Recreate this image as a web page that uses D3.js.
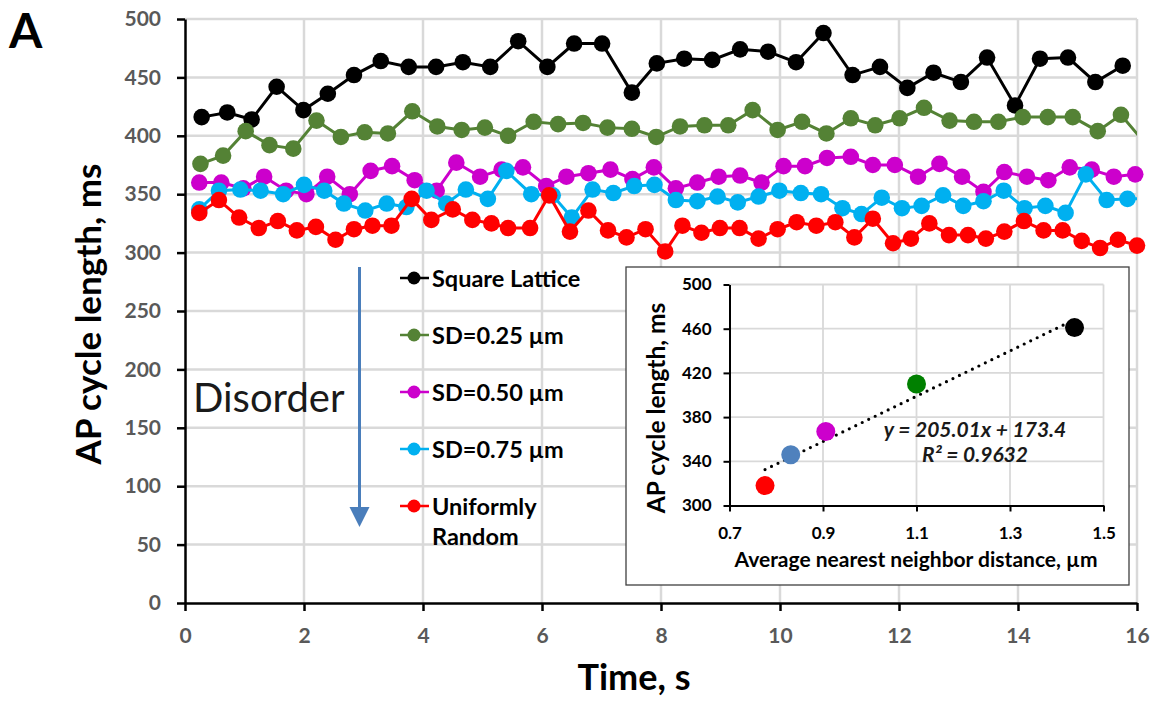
<!DOCTYPE html>
<html>
<head>
<meta charset="utf-8">
<script src="https://cdn.jsdelivr.net/npm/d3@7"></script>
<style>
  body { margin: 0; background: #fff; }
  svg { display: block; }
  text { font-family: Lato, "Liberation Sans", sans-serif; }
</style>
</head>
<body>
<svg id="chart" width="1160" height="708"></svg>
<script>
// ---- Main panel: AP cycle length over time for each cell arrangement ----
const seriesNames = ["Square Lattice", "SD=0.25 µm", "SD=0.50 µm", "SD=0.75 µm", "Uniformly Random"];
const seriesColors = ["#000000", "#548235", "#cc00cc", "#00b0f0", "#ff0000"];

const latticeTime = [0.28,0.71,1.12,1.54,1.99,2.40,2.84,3.29,3.76,4.22,4.67,5.13,5.60,6.09,6.54,7.01,7.51,7.93,8.39,8.86,9.33,9.80,10.27,10.73,11.22,11.68,12.14,12.58,13.04,13.48,13.95,14.37,14.84,15.30,15.76];
const latticeCL   = [416,420,414,442,422,436,452,464,459,459,463,459,481,459,479,479,437,462,466,465,474,472,463,488,452,459,441,454,446,467,426,466,467,446,460];

const sd25Time = [0.26,0.64,1.02,1.42,1.82,2.21,2.62,3.02,3.41,3.82,4.24,4.65,5.04,5.43,5.86,6.27,6.69,7.10,7.51,7.92,8.32,8.73,9.13,9.54,9.96,10.37,10.78,11.19,11.60,12.01,12.42,12.85,13.26,13.67,14.08,14.50,14.92,15.34,15.73,16.13];
const sd25CL   = [376,383,404,392,389,413,399,403,402,421,408,405,407,400,412,410,411,407,406,399,408,409,409,422,405,412,402,415,409,415,424,413,412,412,416,416,416,404,418,394];

const sd50Time = [0.24,0.61,0.98,1.33,1.70,2.04,2.39,2.77,3.12,3.48,3.86,4.23,4.56,4.96,5.32,5.68,6.07,6.41,6.78,7.15,7.52,7.88,8.25,8.61,8.97,9.33,9.69,10.06,10.42,10.79,11.19,11.56,11.93,12.32,12.68,13.06,13.42,13.77,14.15,14.51,14.87,15.24,15.61,15.97];
const sd50CL   = [360,360,355,365,353,350,365,350,370,374,362,353,377,365,371,373,357,365,368,371,363,373,355,360,365,366,360,374,374,381,382,375,375,365,376,365,352,369,365,362,373,371,365,367];

const sd75Time = [0.24,0.57,0.93,1.27,1.65,2.00,2.34,2.67,3.03,3.39,3.72,4.06,4.39,4.72,5.09,5.40,5.82,6.18,6.50,6.85,7.20,7.55,7.89,8.25,8.61,8.95,9.29,9.64,9.99,10.35,10.69,11.05,11.37,11.71,12.05,12.38,12.74,13.08,13.42,13.76,14.11,14.46,14.80,15.14,15.49,15.84,16.18];
const sd75CL   = [337,353,354,353,350,358,353,342,336,342,339,353,342,354,346,370,350,349,330,354,351,357,358,345,344,348,343,348,353,351,350,338,333,347,338,340,349,340,344,353,338,340,334,367,345,346,346];

const randomTime = [0.24,0.57,0.91,1.24,1.56,1.88,2.20,2.53,2.84,3.15,3.47,3.81,4.14,4.50,4.83,5.15,5.43,5.80,6.12,6.47,6.78,7.11,7.42,7.74,8.07,8.36,8.68,8.99,9.32,9.64,9.96,10.28,10.61,10.93,11.25,11.56,11.90,12.20,12.51,12.84,13.16,13.46,13.77,14.10,14.43,14.75,15.07,15.38,15.68,16.00];
const randomCL   = [334,345,330,321,327,319,322,311,320,323,323,346,328,337,328,325,321,321,349,318,336,319,313,320,301,323,317,321,321,312,320,326,323,326,313,329,308,312,325,315,315,312,318,327,319,319,310,304,311,306];

const seriesTimes = [latticeTime, sd25Time, sd50Time, sd75Time, randomTime];
const seriesCL = [latticeCL, sd25CL, sd50CL, sd75CL, randomCL];

const yTicks = [0,50,100,150,200,250,300,350,400,450,500];
const xTicks = [0,2,4,6,8,10,12,14,16];

// ---- Inset: mean cycle length vs. average nearest neighbour distance ----
const nnDistance = [1.438, 1.10, 0.906, 0.831, 0.776];
const meanCL     = [461, 410, 367, 346, 318];
const insetColors = ["#000000", "#008000", "#cc00cc", "#4f81bd", "#ff0000"];
const fitSlope = 205.01, fitIntercept = 173.4, fitR2 = "0.9632";
const fitRange = [0.776, 1.42];
const insetYTicks = [300,340,380,420,460,500];
const insetXTicks = [0.7,0.9,1.1,1.3,1.5];

const svg = d3.select("#chart");
const gridColor = "#d9d9d9";
const tickGray = "#595959";

const x = d3.scaleLinear().domain([0, 16]).range([185, 1137]);
const y = d3.scaleLinear().domain([0, 500]).range([603, 19]);

// gridlines
const grid = svg.append("g");
grid.selectAll("line.h").data(yTicks.filter(d => d > 0)).join("line")
  .attr("x1", x(0)).attr("x2", x(16))
  .attr("y1", d => y(d)).attr("y2", d => y(d))
  .attr("stroke", gridColor).attr("stroke-width", 2.5);
grid.selectAll("line.v").data(xTicks.filter(d => d > 0)).join("line")
  .attr("y1", y(0)).attr("y2", y(500))
  .attr("x1", d => x(d)).attr("x2", d => x(d))
  .attr("stroke", gridColor).attr("stroke-width", 2.5);

// axes
const yAxis = svg.append("g").attr("transform", `translate(${x(0)},0)`)
  .call(d3.axisLeft(y).tickValues(yTicks).tickSize(8).tickPadding(16).tickSizeOuter(0));
const xAxis = svg.append("g").attr("transform", `translate(0,${y(0)})`)
  .call(d3.axisBottom(x).tickValues(xTicks).tickSize(8).tickPadding(17).tickSizeOuter(0));
[yAxis, xAxis].forEach(a => {
  a.select(".domain").attr("stroke", "#000").attr("stroke-width", 2.5);
  a.selectAll(".tick line").attr("stroke", "#000").attr("stroke-width", 2.5);
  a.selectAll(".tick text").attr("fill", tickGray).attr("font-size", 21)
    .attr("font-weight", 700).attr("font-family", "Lato, sans-serif");
});

// series
svg.append("clipPath").attr("id", "plotClip").append("rect")
  .attr("x", x(0)).attr("y", 0).attr("width", x(16) - x(0)).attr("height", y(0));

const line = d3.line().x(d => x(d[0])).y(d => y(d[1]));
seriesNames.forEach((name, i) => {
  const pts = seriesTimes[i].map((t, k) => [t, seriesCL[i][k]]);
  const g = svg.append("g");
  g.append("path").datum(pts).attr("d", line)
    .attr("fill", "none").attr("stroke", seriesColors[i]).attr("stroke-width", 3)
    .attr("clip-path", "url(#plotClip)");
  g.selectAll("circle").data(pts.filter(p => p[0] <= 16.05)).join("circle")
    .attr("cx", d => x(d[0])).attr("cy", d => y(d[1])).attr("r", 8.3)
    .attr("fill", seriesColors[i]);
});

// legend
const legendY = [278, 335, 392, 449, 506];
const legend = svg.append("g");
seriesNames.forEach((name, i) => {
  const ly = legendY[i];
  legend.append("line").attr("x1", 400).attr("x2", 429).attr("y1", ly).attr("y2", ly)
    .attr("stroke", seriesColors[i]).attr("stroke-width", 2.5);
  legend.append("circle").attr("cx", 414).attr("cy", ly).attr("r", 6.5).attr("fill", seriesColors[i]);
  const txt = legend.append("text").attr("x", 432).attr("y", ly + 8.5)
    .attr("font-size", 23.5).attr("font-weight", 700).attr("fill", "#000");
  if (name === "Uniformly Random") {
    txt.text("Uniformly");
    legend.append("text").attr("x", 432).attr("y", ly + 38.5)
      .attr("font-size", 23.5).attr("font-weight", 700).attr("fill", "#000").text("Random");
  } else {
    txt.text(name);
  }
});

// disorder arrow
const arrowColor = "#4a7ebb";
svg.append("line").attr("x1", 359.5).attr("x2", 359.5).attr("y1", 267).attr("y2", 510)
  .attr("stroke", arrowColor).attr("stroke-width", 3);
svg.append("path").attr("d", "M349.5,507 L369.5,507 L359.5,527 Z").attr("fill", arrowColor);
svg.append("text").attr("x", 193).attr("y", 412).attr("font-size", 40)
  .attr("fill", "#1a1a1a").text("Disorder");

// axis titles and panel letter
svg.append("text").attr("transform", "translate(101,314) rotate(-90)")
  .attr("text-anchor", "middle").attr("font-size", 35).attr("font-weight", 700)
  .text("AP cycle length, ms");
svg.append("text").attr("x", 634).attr("y", 690).attr("text-anchor", "middle")
  .attr("font-size", 36).attr("font-weight", 700).text("Time, s");
svg.append("text").attr("x", 9).attr("y", 48).attr("font-size", 48).attr("font-weight", 700)
  .attr("font-family", "'Liberation Sans', Arial, sans-serif").text("A");

// ---- inset panel ----
const inset = svg.append("g");
inset.append("rect").attr("x", 626).attr("y", 267).attr("width", 503).attr("height", 318)
  .attr("fill", "#fff").attr("stroke", "#404040").attr("stroke-width", 1.3);

const ix = d3.scaleLinear().domain([0.7, 1.5]).range([729.5, 1103.5]);
const iy = d3.scaleLinear().domain([300, 500]).range([505.5, 284.5]);

inset.selectAll("line.ih").data(insetYTicks.filter(d => d > 300)).join("line")
  .attr("x1", ix(0.7)).attr("x2", ix(1.5)).attr("y1", d => iy(d)).attr("y2", d => iy(d))
  .attr("stroke", gridColor).attr("stroke-width", 1.8);
inset.selectAll("line.iv").data(insetXTicks.filter(d => d > 0.7)).join("line")
  .attr("x1", d => ix(d)).attr("x2", d => ix(d)).attr("y1", iy(300)).attr("y2", iy(500))
  .attr("stroke", gridColor).attr("stroke-width", 1.8);

const iyAxis = inset.append("g").attr("transform", `translate(${ix(0.7)},0)`)
  .call(d3.axisLeft(iy).tickValues(insetYTicks).tickSize(6).tickPadding(12).tickSizeOuter(0));
const ixAxis = inset.append("g").attr("transform", `translate(0,${iy(300)})`)
  .call(d3.axisBottom(ix).tickValues(insetXTicks).tickFormat(d3.format(".1f"))
    .tickSize(6).tickPadding(15).tickSizeOuter(0));
[iyAxis, ixAxis].forEach(a => {
  a.select(".domain").attr("stroke", "#000").attr("stroke-width", 2);
  a.selectAll(".tick line").attr("stroke", "#000").attr("stroke-width", 2);
  a.selectAll(".tick text").attr("fill", "#000").attr("font-size", 17)
    .attr("font-weight", 700).attr("font-family", "Lato, sans-serif");
});

// linear fit, dotted
inset.append("line")
  .attr("x1", ix(fitRange[0])).attr("y1", iy(fitSlope * fitRange[0] + fitIntercept))
  .attr("x2", ix(fitRange[1])).attr("y2", iy(fitSlope * fitRange[1] + fitIntercept))
  .attr("stroke", "#000").attr("stroke-width", 3.2)
  .attr("stroke-linecap", "round").attr("stroke-dasharray", "0 7.2");

inset.selectAll("circle").data(nnDistance.map((d, i) => [d, meanCL[i], insetColors[i]])).join("circle")
  .attr("cx", d => ix(d[0])).attr("cy", d => iy(d[1])).attr("r", 9.5).attr("fill", d => d[2]);

const eq = inset.append("g").attr("font-family", "'Liberation Serif', 'Times New Roman', serif")
  .attr("font-style", "italic").attr("font-weight", 700).attr("font-size", 21).attr("fill", "#1a1a1a");
eq.append("text").attr("x", 975).attr("y", 437).attr("text-anchor", "middle")
  .text(`y = ${fitSlope}x + ${fitIntercept}`);
eq.append("text").attr("x", 975).attr("y", 462).attr("text-anchor", "middle")
  .text(`R² = ${fitR2}`);

inset.append("text").attr("transform", "translate(665,408) rotate(-90)")
  .attr("text-anchor", "middle").attr("font-size", 24.5).attr("font-weight", 700)
  .text("AP cycle length, ms");
inset.append("text").attr("x", 916).attr("y", 567).attr("text-anchor", "middle")
  .attr("font-size", 21).attr("font-weight", 700)
  .text("Average nearest neighbor distance, µm");
</script>
</body>
</html>
